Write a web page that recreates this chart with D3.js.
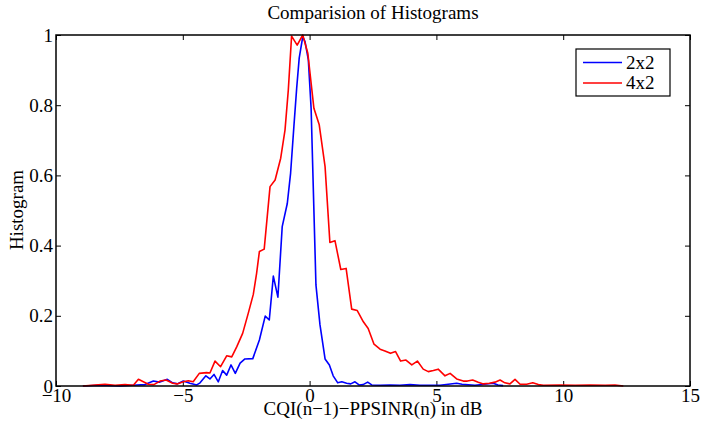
<!DOCTYPE html>
<html>
<head>
<meta charset="utf-8">
<script src="https://cdn.jsdelivr.net/npm/d3@7"></script>
<style>
  body { margin: 0; background: #fff; }
  svg text { font-family: "Liberation Serif", "Times New Roman", serif; font-size: 19px; fill: #000; }
</style>
</head>
<body>
<svg id="chart"></svg>
<script>
// series
const blueX = [-8.94, -8.27, -7.48, -6.82, -6.49, -6.16, -5.93, -5.61, -5.40, -5.22, -4.98, -4.72, -4.45, -4.32,
  -4.09, -3.93, -3.77, -3.60, -3.43, -3.27, -3.10, -2.93, -2.74, -2.55, -2.24, -1.98, -1.75, -1.59, -1.43, -1.25,
  -1.08, -0.88, -0.75, -0.62, -0.51, -0.41, -0.27, -0.18, -0.05, 0.06, 0.25, 0.41, 0.61, 0.78, 0.93, 1.11, 1.27,
  1.46, 1.62, 1.79, 1.95, 2.11, 2.29, 2.45, 2.78, 3.17, 3.56, 3.96, 4.35, 5.14, 5.80, 6.01, 6.52, 7.24, 7.43, 7.63];
const blueY = [0, 0.002, 0, 0.003, 0.004, 0.014, 0.011, 0.019, 0.009, 0.006, 0.014, 0.008, 0.003, 0.009,
  0.029, 0.020, 0.033, 0.012, 0.044, 0.031, 0.060, 0.036, 0.065, 0.077, 0.078, 0.131, 0.199, 0.188, 0.313, 0.253,
  0.454, 0.520, 0.606, 0.739, 0.848, 0.934, 0.995, 0.981, 0.929, 0.791, 0.288, 0.174, 0.077, 0.060, 0.029, 0.009, 0.012,
  0.008, 0.006, 0.012, 0.003, 0.004, 0.011, 0.003, 0.002, 0.003, 0.002, 0.004, 0.002, 0.002, 0.008, 0.005, 0.002, 0.008, 0.003, 0.001];

const redX = [-8.94, -8.46, -8.07, -7.67, -7.28, -6.95, -6.75, -6.36, -6.14, -5.90, -5.66, -5.40, -5.22, -4.98,
  -4.78, -4.59, -4.35, -4.06, -3.93, -3.73, -3.51, -3.27, -3.07, -2.87, -2.64, -2.42, -2.22, -2.09, -1.98, -1.79,
  -1.56, -1.36, -1.14, -0.97, -0.84, -0.71, -0.49, -0.27, -0.07, 0.17, 0.38, 0.61, 0.80, 1.00, 1.23, 1.44, 1.66,
  1.88, 2.12, 2.31, 2.54, 2.78, 2.97, 3.19, 3.39, 3.59, 3.80, 4.03, 4.25, 4.48, 4.68, 4.88, 5.07, 5.34, 5.54,
  5.80, 6.06, 6.22, 6.43, 6.65, 6.85, 7.09, 7.31, 7.51, 7.70, 7.90, 8.10, 8.30, 8.56, 8.80, 9.02, 9.22, 9.87,
  10.47, 11.06, 11.65, 12.04, 12.37];
const redY = [0, 0.003, 0.005, 0.002, 0.004, 0.002, 0.019, 0.005, 0.004, 0.014, 0.017, 0.008, 0.006, 0.012,
  0.015, 0.012, 0.036, 0.038, 0.037, 0.071, 0.055, 0.086, 0.083, 0.112, 0.150, 0.207, 0.261, 0.321, 0.383, 0.390,
  0.568, 0.587, 0.649, 0.729, 0.843, 0.997, 0.971, 1.0, 0.948, 0.791, 0.744, 0.625, 0.409, 0.414, 0.332, 0.335, 0.219,
  0.215, 0.183, 0.164, 0.119, 0.105, 0.100, 0.093, 0.098, 0.071, 0.074, 0.060, 0.071, 0.048, 0.041, 0.044, 0.048, 0.029, 0.036,
  0.020, 0.014, 0.014, 0.017, 0.011, 0.006, 0.008, 0.011, 0.017, 0.009, 0.006, 0.019, 0.005, 0.005, 0.009, 0.004, 0.002, 0.003,
  0.002, 0.003, 0.002, 0.003, 0];

const xTicks = [-10, -5, 0, 5, 10, 15];
const yTicks = [0, 0.2, 0.4, 0.6, 0.8, 1];
const seriesNames = ['2x2', '4x2'];
const seriesColors = ['#0000ff', '#ff0000'];

const width = 702, height = 425;
const margin = {top: 35, right: 12, bottom: 39, left: 56};
const w = width - margin.left - margin.right;
const h = height - margin.top - margin.bottom;

const svg = d3.select('#chart').attr('width', width).attr('height', height);
const g = svg.append('g').attr('transform', `translate(${margin.left},${margin.top})`);

const x = d3.scaleLinear().domain([-10, 15]).range([0, w]);
const y = d3.scaleLinear().domain([0, 1]).range([h, 0]);

// axes (ticks point inward, like matlab)
const xAxisB = d3.axisBottom(x).tickValues(xTicks).tickSize(-5).tickPadding(2.5).tickFormat(d3.format('d'));
const xAxisT = d3.axisTop(x).tickValues(xTicks).tickSize(-5).tickFormat('');
const yAxisL = d3.axisLeft(y).tickValues(yTicks).tickSize(-5).tickPadding(3).tickFormat(d => d === 0 || d === 1 ? d : d3.format('.1f')(d));
const yAxisR = d3.axisRight(y).tickValues(yTicks).tickSize(-5).tickFormat('');

[g.append('g').attr('transform', `translate(0,${h})`).call(xAxisB),
 g.append('g').call(xAxisT),
 g.append('g').call(yAxisL),
 g.append('g').attr('transform', `translate(${w},0)`).call(yAxisR)]
  .forEach(a => {
    a.select('.domain').remove();
    a.selectAll('line').attr('stroke', '#000').attr('stroke-width', 1);
    a.attr('font-family', null).attr('font-size', null);
  });

const line = d3.line().x(d => x(d[0])).y(d => y(d[1]));
const blue = blueX.map((v, i) => [v, blueY[i]]);
const red = redX.map((v, i) => [v, redY[i]]);

g.append('path').datum(blue).attr('d', line)
  .attr('fill', 'none').attr('stroke', seriesColors[0]).attr('stroke-width', 1.6).attr('stroke-linejoin', 'round');
g.append('path').datum(red).attr('d', line)
  .attr('fill', 'none').attr('stroke', seriesColors[1]).attr('stroke-width', 1.6).attr('stroke-linejoin', 'round');

// box
g.append('rect').attr('width', w).attr('height', h)
  .attr('fill', 'none').attr('stroke', '#000').attr('stroke-width', 1.5);

// title and labels
svg.append('text').attr('x', margin.left + w / 2).attr('y', 19)
  .attr('text-anchor', 'middle').text('Comparision of Histograms');
svg.append('text').attr('x', margin.left + w / 2).attr('y', 415)
  .attr('text-anchor', 'middle').text('CQI(n\u22121)\u2212PPSINR(n) in dB');
svg.append('text').attr('transform', 'translate(23,210) rotate(-90)')
  .attr('text-anchor', 'middle').text('Histogram');

// legend
const lg = svg.append('g').attr('transform', 'translate(576,49)');
lg.append('rect').attr('width', 94).attr('height', 47)
  .attr('fill', '#fff').attr('stroke', '#000').attr('stroke-width', 1.2);
seriesNames.forEach((name, i) => {
  const yy = 13.5 + i * 20.5;
  lg.append('line').attr('x1', 7).attr('x2', 46).attr('y1', yy).attr('y2', yy)
    .attr('stroke', seriesColors[i]).attr('stroke-width', 1.6);
  lg.append('text').attr('x', 50).attr('y', yy).attr('dy', '0.33em').text(name);
});
</script>
</body>
</html>
